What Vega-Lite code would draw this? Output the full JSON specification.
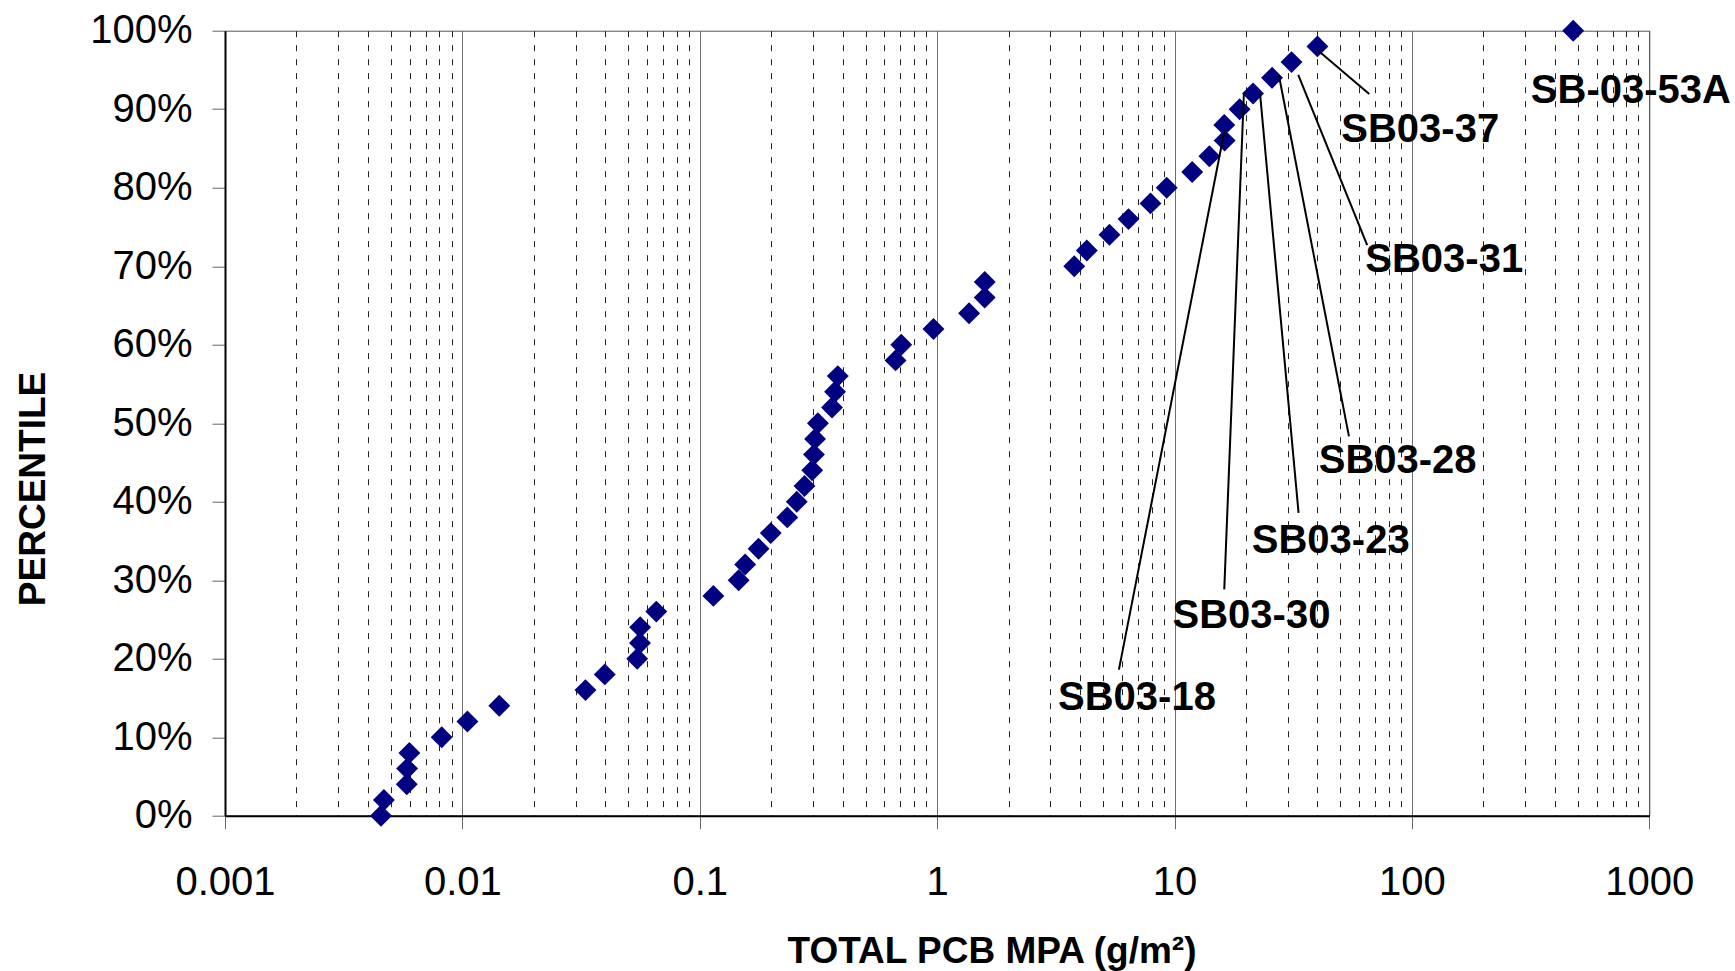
{
  "$schema": "https://vega.github.io/schema/vega-lite/v6.json",
  "width": 1424.3,
  "height": 785,
  "autosize": {"type": "none"},
  "padding": {"left": 225, "top": 30.7, "right": 85.7, "bottom": 155.3},
  "background": "white",
  "config": {
    "font": "Liberation Sans",
    "view": {"stroke": "#555555", "strokeWidth": 1}
  },
  "datasets": {
    "points": [
      {"mpa": 0.00454, "pct": 0.00},
      {"mpa": 0.00467, "pct": 0.02},
      {"mpa": 0.00583, "pct": 0.04},
      {"mpa": 0.00585, "pct": 0.06},
      {"mpa": 0.00598, "pct": 0.08},
      {"mpa": 0.00818, "pct": 0.10},
      {"mpa": 0.0105, "pct": 0.12},
      {"mpa": 0.0143, "pct": 0.14},
      {"mpa": 0.0330, "pct": 0.16},
      {"mpa": 0.0398, "pct": 0.18},
      {"mpa": 0.0545, "pct": 0.20},
      {"mpa": 0.0560, "pct": 0.22},
      {"mpa": 0.0561, "pct": 0.24},
      {"mpa": 0.0656, "pct": 0.26},
      {"mpa": 0.1141, "pct": 0.28},
      {"mpa": 0.1458, "pct": 0.30},
      {"mpa": 0.1553, "pct": 0.32},
      {"mpa": 0.1769, "pct": 0.34},
      {"mpa": 0.1991, "pct": 0.36},
      {"mpa": 0.2337, "pct": 0.38},
      {"mpa": 0.2562, "pct": 0.40},
      {"mpa": 0.2761, "pct": 0.42},
      {"mpa": 0.2976, "pct": 0.44},
      {"mpa": 0.3027, "pct": 0.46},
      {"mpa": 0.3060, "pct": 0.48},
      {"mpa": 0.3145, "pct": 0.50},
      {"mpa": 0.3606, "pct": 0.52},
      {"mpa": 0.3715, "pct": 0.54},
      {"mpa": 0.3814, "pct": 0.56},
      {"mpa": 0.668, "pct": 0.58},
      {"mpa": 0.706, "pct": 0.60},
      {"mpa": 0.965, "pct": 0.62},
      {"mpa": 1.363, "pct": 0.64},
      {"mpa": 1.586, "pct": 0.66},
      {"mpa": 1.587, "pct": 0.68},
      {"mpa": 3.78, "pct": 0.70},
      {"mpa": 4.27, "pct": 0.72},
      {"mpa": 5.32, "pct": 0.74},
      {"mpa": 6.40, "pct": 0.76},
      {"mpa": 7.92, "pct": 0.78},
      {"mpa": 9.27, "pct": 0.80},
      {"mpa": 11.87, "pct": 0.82},
      {"mpa": 14.02, "pct": 0.84},
      {"mpa": 16.26, "pct": 0.86},
      {"mpa": 16.20, "pct": 0.88},
      {"mpa": 18.80, "pct": 0.90},
      {"mpa": 21.42, "pct": 0.92},
      {"mpa": 25.75, "pct": 0.94},
      {"mpa": 31.11, "pct": 0.96},
      {"mpa": 39.99, "pct": 0.98},
      {"mpa": 478, "pct": 1.00}
    ],
    "labels": [
      {"label": "SB-03-53A", "tx": 836.5, "ty": 0.9075, "x1": null, "y1": null, "x2": null, "y2": null},
      {"label": "SB03-37", "tx": 108.4, "ty": 0.8586, "x1": 40.0, "y1": 0.9754, "x2": 66.1, "y2": 0.9194},
      {"label": "SB03-31", "tx": 136.8, "ty": 0.6930, "x1": 33.2, "y1": 0.9436, "x2": 64.8, "y2": 0.7270},
      {"label": "SB03-28", "tx": 87.1, "ty": 0.4367, "x1": 27.5, "y1": 0.9436, "x2": 54.3, "y2": 0.4832},
      {"label": "SB03-23", "tx": 45.5, "ty": 0.3346, "x1": 22.9, "y1": 0.9210, "x2": 33.3, "y2": 0.3857},
      {"label": "SB03-30", "tx": 21.09, "ty": 0.2395, "x1": 19.6, "y1": 0.9210, "x2": 16.2, "y2": 0.2883},
      {"label": "SB03-18", "tx": 6.945, "ty": 0.1350, "x1": 16.2, "y1": 0.8713, "x2": 5.83, "y2": 0.1861}
    ]
  },
  "layer": [
    {
      "data": {"name": "points"},
      "mark": {"type": "point", "shape": "diamond", "filled": true, "size": 480, "color": "#000080", "opacity": 1},
      "encoding": {
        "x": {
          "field": "mpa",
          "type": "quantitative",
          "scale": {"type": "log", "domain": [0.001, 1000], "nice": false},
          "axis": {
            "values": [0.001, 0.002, 0.003, 0.004, 0.005, 0.006, 0.007, 0.008, 0.009,
                       0.01, 0.02, 0.03, 0.04, 0.05, 0.06, 0.07, 0.08, 0.09,
                       0.1, 0.2, 0.3, 0.4, 0.5, 0.6, 0.7, 0.8, 0.9,
                       1, 2, 3, 4, 5, 6, 7, 8, 9,
                       10, 20, 30, 40, 50, 60, 70, 80, 90,
                       100, 200, 300, 400, 500, 600, 700, 800, 900, 1000],
            "grid": true,
            "gridWidth": 1,
            "gridColor": {"condition": {"test": "abs(log(datum.value)/LN10 - round(log(datum.value)/LN10)) < 0.001", "value": "#555555"}, "value": "#222222"},
            "gridDash": {"condition": {"test": "abs(log(datum.value)/LN10 - round(log(datum.value)/LN10)) < 0.001", "value": [1, 0]}, "value": [6, 8]},
            "tickOpacity": {"condition": {"test": "abs(log(datum.value)/LN10 - round(log(datum.value)/LN10)) < 0.001", "value": 1}, "value": 0},
            "labelExpr": "abs(log(datum.value)/LN10 - round(log(datum.value)/LN10)) < 0.001 ? format(datum.value, '~g') : ''",
            "tickSize": 13,
            "tickColor": "#666666",
            "tickWidth": 1,
            "domainColor": "black",
            "domainWidth": 2,
            "labelFont": "Liberation Sans",
            "labelFontSize": 40,
            "labelColor": "black",
            "labelPadding": 34,
            "labelFlush": false,
            "labelOverlap": false,
            "labelBaseline": "top",
            "title": "TOTAL PCB MPA (g/m²)",
            "titleFont": "Liberation Sans",
            "titleFontSize": 37,
            "titleFontWeight": "bold",
            "titleColor": "black",
            "titleAlign": "center",
            "titleBaseline": "alphabetic",
            "titleX": 766.5,
            "titleY": 147
          }
        },
        "y": {
          "field": "pct",
          "type": "quantitative",
          "scale": {"domain": [0, 1], "nice": false},
          "axis": {
            "values": [0, 0.1, 0.2, 0.3, 0.4, 0.5, 0.6, 0.7, 0.8, 0.9, 1],
            "format": ".0%",
            "grid": false,
            "tickSize": 13,
            "tickColor": "#666666",
            "tickWidth": 1,
            "domainColor": "black",
            "domainWidth": 2,
            "labelFont": "Liberation Sans",
            "labelFontSize": 40,
            "labelColor": "black",
            "labelPadding": 20,
            "labelFlush": false,
            "labelOverlap": false,
            "title": "PERCENTILE",
            "titleFont": "Liberation Sans",
            "titleFontSize": 37,
            "titleFontWeight": "bold",
            "titleColor": "black",
            "titleAngle": -90,
            "titleAlign": "center",
            "titleBaseline": "alphabetic",
            "titleX": -181,
            "titleY": 457.8
          }
        }
      }
    },
    {
      "data": {"name": "labels"},
      "transform": [{"filter": "datum.x1 != null"}],
      "mark": {"type": "rule", "color": "black", "strokeWidth": 2},
      "encoding": {
        "x": {"field": "x1", "type": "quantitative"},
        "y": {"field": "y1", "type": "quantitative"},
        "x2": {"field": "x2"},
        "y2": {"field": "y2"}
      }
    },
    {
      "data": {"name": "labels"},
      "mark": {"type": "text", "font": "Liberation Sans", "fontSize": 40, "fontWeight": "bold", "color": "black", "align": "center", "baseline": "alphabetic"},
      "encoding": {
        "x": {"field": "tx", "type": "quantitative"},
        "y": {"field": "ty", "type": "quantitative"},
        "text": {"field": "label"}
      }
    }
  ]
}
